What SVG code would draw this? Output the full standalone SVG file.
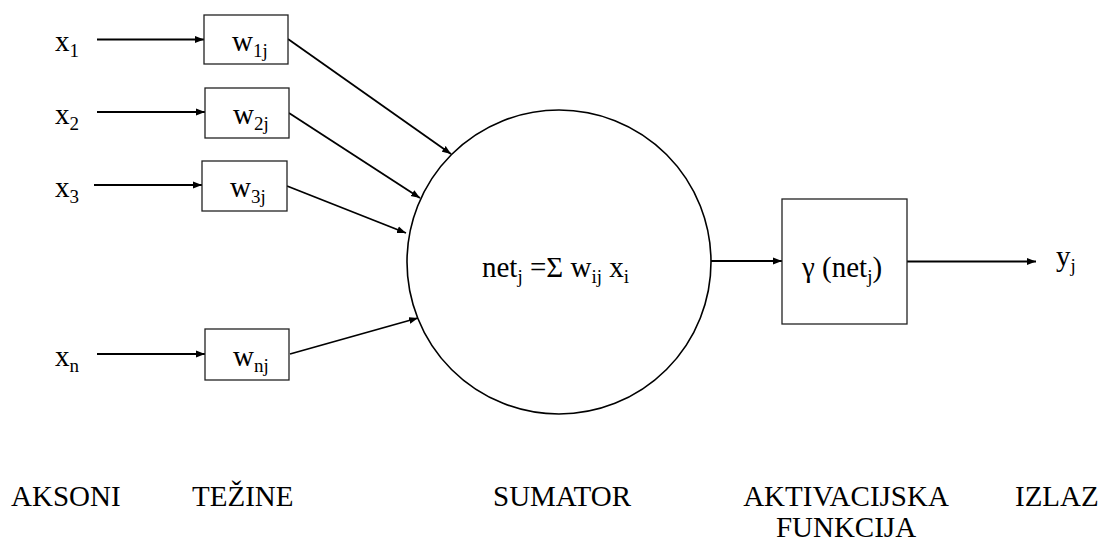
<svg xmlns="http://www.w3.org/2000/svg" width="1100" height="543" viewBox="0 0 1100 543">
<style>
text{font-family:'Liberation Serif','Times New Roman',serif;font-size:29px;fill:#000}
.sub{font-size:19px}
.box{fill:#fff;stroke:#222;stroke-width:1.3}
.conn{stroke:#000;stroke-width:1.8;fill:none;marker-end:url(#ah)}
</style>
<defs>
<marker id="ah" markerUnits="userSpaceOnUse" markerWidth="10" markerHeight="8" refX="9" refY="4" orient="auto">
<path d="M0,0.5 L9,4 L0,7.5 Z" fill="#000"/>
</marker>
</defs>
<rect width="1100" height="543" fill="#fff"/>
<g id="connectors">
<line class="conn" x1="97" y1="39.5" x2="204" y2="39.5"/>
<line class="conn" x1="97" y1="112" x2="205" y2="112"/>
<line class="conn" x1="94" y1="185" x2="202" y2="185"/>
<line class="conn" x1="97" y1="354" x2="205" y2="354"/>
<line class="conn" x1="288" y1="39" x2="451" y2="154"/>
<line class="conn" x1="289" y1="113" x2="420" y2="198"/>
<line class="conn" x1="287" y1="186" x2="406" y2="233"/>
<line class="conn" x1="290" y1="354" x2="418" y2="318"/>
<line class="conn" x1="711" y1="261" x2="782" y2="261"/>
<line class="conn" x1="907" y1="261.5" x2="1036" y2="261.5"/>
</g>
<g id="x1"><text x="55" y="51">x<tspan class="sub" dy="6">1</tspan></text></g>
<g id="x2"><text x="55" y="124">x<tspan class="sub" dy="6">2</tspan></text></g>
<g id="x3"><text x="55" y="197">x<tspan class="sub" dy="6">3</tspan></text></g>
<g id="xn"><text x="55" y="366">x<tspan class="sub" dy="6">n</tspan></text></g>
<g id="w1j"><rect class="box" x="204" y="15" width="84" height="49"/><text x="232" y="51">w<tspan class="sub" dy="6">1j</tspan></text></g>
<g id="w2j"><rect class="box" x="205" y="88" width="84" height="50"/><text x="233" y="124">w<tspan class="sub" dy="6">2j</tspan></text></g>
<g id="w3j"><rect class="box" x="202" y="161" width="85" height="50"/><text x="230" y="197">w<tspan class="sub" dy="6">3j</tspan></text></g>
<g id="wnj"><rect class="box" x="205" y="329" width="84" height="51"/><text x="233" y="366">w<tspan class="sub" dy="6">nj</tspan></text></g>
<g id="sumator"><circle cx="559" cy="262" r="152" fill="#fff" stroke="#000" stroke-width="1.6"/>
<text x="482" y="277">net<tspan class="sub" dy="6">j</tspan><tspan dy="-6"> =Σ w</tspan><tspan class="sub" dy="6">ij</tspan><tspan dy="-6"> x</tspan><tspan class="sub" dy="6">i</tspan></text></g>
<g id="activation"><rect class="box" x="782" y="199" width="125" height="125" stroke-width="1.6"/>
<text x="802" y="277">γ (net<tspan class="sub" dy="6">j</tspan><tspan dy="-6">)</tspan></text></g>
<g id="yj"><text x="1056" y="266">y<tspan class="sub" dy="6">j</tspan></text></g>
<g id="labels">
<text x="11" y="506">AKSONI</text>
<text x="192" y="506">TEŽINE</text>
<text x="493" y="506">SUMATOR</text>
<text x="846" y="506" text-anchor="middle">AKTIVACIJSKA</text>
<text x="846" y="537" text-anchor="middle">FUNKCIJA</text>
<text x="1015" y="506">IZLAZ</text>
</g>
</svg>
